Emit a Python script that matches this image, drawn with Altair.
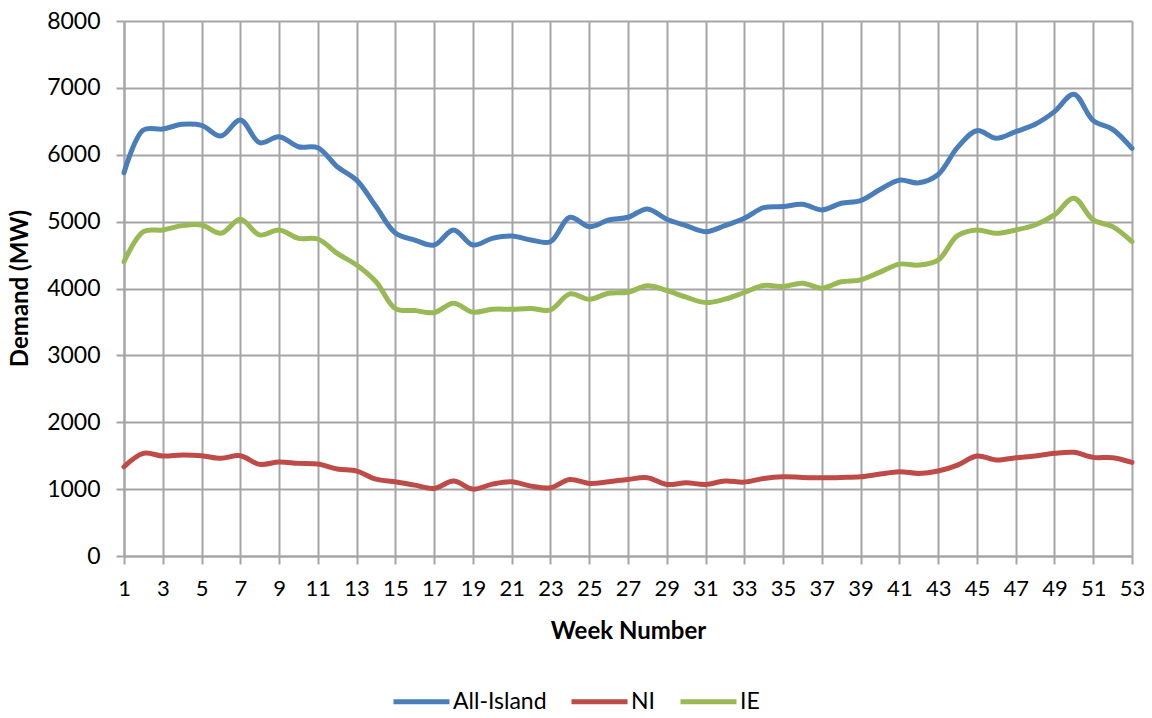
import altair as alt
import pandas as pd

weeks = list(range(1, 54))
all_island = [5730, 6370, 6385, 6455, 6440, 6280, 6520, 6180, 6270, 6120,
              6105, 5820, 5620, 5225, 4830, 4725, 4650, 4875, 4650, 4750,
              4785, 4725, 4700, 5065, 4925, 5025, 5065, 5190, 5035, 4940,
              4850, 4940, 5050, 5210, 5225, 5260, 5175, 5275, 5315, 5480,
              5620, 5580, 5705, 6110, 6360, 6245, 6345, 6455, 6645, 6905,
              6510, 6380, 6095]
ni = [1335, 1535, 1495, 1510, 1500, 1460, 1500, 1370, 1405, 1385,
      1375, 1300, 1270, 1150, 1110, 1060, 1010, 1120, 1000, 1075,
      1110, 1045, 1020, 1145, 1085, 1110, 1145, 1170, 1070, 1095,
      1070, 1120, 1105, 1160, 1185, 1175, 1170, 1175, 1185, 1225,
      1260, 1235, 1270, 1360, 1495, 1435, 1470, 1495, 1535, 1550,
      1475, 1470, 1400]
ie = [4400, 4850, 4875, 4940, 4950, 4825, 5035, 4800, 4875, 4750,
      4740, 4525, 4350, 4100, 3700, 3670, 3640, 3780, 3645, 3690,
      3690, 3700, 3680, 3920, 3840, 3930, 3945, 4040, 3970, 3870,
      3790, 3840, 3940, 4045, 4030, 4080, 4005, 4100, 4130, 4245,
      4365, 4350, 4425, 4790, 4875, 4825, 4875, 4950, 5100, 5350,
      5025, 4925, 4700]

series_names = ["All-Island", "NI", "IE"]
series_colors = ["#4A7EBB", "#BE4B48", "#98B954"]
x_ticks = list(range(1, 54, 2))
y_ticks = list(range(0, 8001, 1000))

rows = []
for name, vals in zip(series_names, [all_island, ni, ie]):
    for w, v in zip(weeks, vals):
        rows.append({"Week": w, "Demand": v, "Series": name})
df = pd.DataFrame(rows)

FONT = "Lato"
GRID = "#A5A5A8"

chart = alt.Chart(df).mark_line(
    interpolate="catmull-rom", strokeWidth=5, strokeCap="round", strokeJoin="round"
).encode(
    x=alt.X("Week:Q",
            scale=alt.Scale(domain=[1, 53], nice=False, zero=False),
            axis=alt.Axis(values=x_ticks, title="Week Number", grid=True, format="d",
                          gridColor=GRID, gridWidth=2, domainColor=GRID, domainWidth=2,
                          tickColor=GRID, tickWidth=2, tickSize=8,
                          labelFont=FONT, labelFontSize=22, labelColor="#000",
                          labelPadding=14, labelFlush=False, labelOverlap=False,
                          titleFont=FONT, titleFontSize=24, titleFontWeight="bold",
                          titleColor="#000", titleBaseline="middle",
                          titleX=504, titleY=75, titleAlign="center")),
    y=alt.Y("Demand:Q",
            scale=alt.Scale(domain=[0, 8000], nice=False),
            axis=alt.Axis(values=y_ticks, title="Demand (MW)", grid=True, format="d",
                          gridColor=GRID, gridWidth=2, domainColor=GRID, domainWidth=2,
                          tickColor=GRID, tickWidth=2, tickSize=8,
                          labelFont=FONT, labelFontSize=23, labelColor="#000",
                          labelPadding=16, labelFlush=False, labelOverlap=False,
                          titleFont=FONT, titleFontSize=24, titleFontWeight="bold",
                          titleColor="#000", titleBaseline="middle", titleAngle=-90,
                          titleX=-104, titleY=267, titleAlign="center")),
    color=alt.Color("Series:N",
                    scale=alt.Scale(domain=series_names, range=series_colors),
                    sort=series_names,
                    legend=alt.Legend(title=None, orient="none", legendX=267, legendY=650,
                                      direction="horizontal", symbolType="stroke",
                                      symbolSize=3136, symbolStrokeWidth=5,
                                      labelFont=FONT, labelFontSize=23, labelColor="#000",
                                      labelOffset=1, columnPadding=14)),
).properties(
    width=1008, height=535,
    autosize=alt.AutoSizeParams(type="none"),
    padding={"left": 116, "top": 13, "right": 12, "bottom": 154},
).configure_view(stroke=None).configure(background="white")

chart.save("out.html", embed_options={"renderer": "svg", "actions": False})
